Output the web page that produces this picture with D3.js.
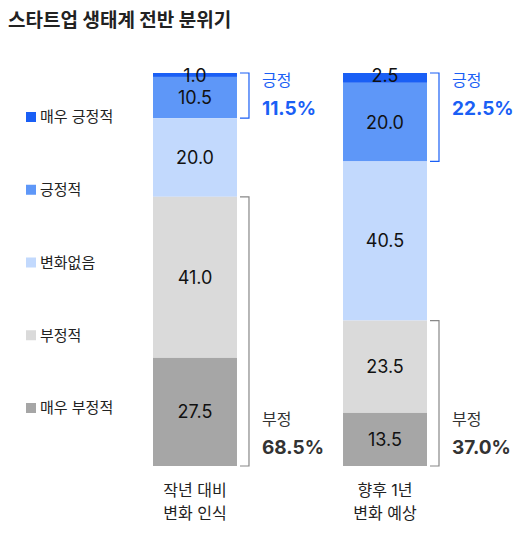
<!DOCTYPE html>
<html><head><meta charset="utf-8">
<script src="https://cdn.jsdelivr.net/npm/d3@7"></script>
<style>body{margin:0;background:#fff;font-family:Inter,"Noto Sans CJK KR","Noto Sans",sans-serif;}</style>
</head><body><svg id="c" width="525" height="533"></svg>
<script>
const categories = ["매우 긍정적", "긍정적", "변화없음", "부정적", "매우 부정적"];
const bars = [["작년 대비", "변화 인식"], ["향후 1년", "변화 예상"]];
const values = [[1.0, 10.5, 20.0, 41.0, 27.5], [2.5, 20.0, 40.5, 23.5, 13.5]];
const positive = ["11.5%", "22.5%"];
const negative = ["68.5%", "37.0%"];
const colors = ["#1a5ff5", "#5e97f8", "#c2d9fd", "#dadada", "#a6a6a6"];

const svg = d3.select("#c");
svg.append("text").attr("x", 8).attr("y", 27).attr("font-size", 19).attr("font-weight", 700)
  .attr("fill", "#222").text("스타트업 생태계 전반 분위기");

const y = d3.scaleLinear().domain([0, 100]).range([73, 466]);
const x = d3.scaleBand().domain([0, 1]).range([153, 427]).paddingInner(0.558).paddingOuter(0);
const ly = d3.scalePoint().domain(categories).range([117, 408]);

// legend
const lg = svg.append("g").selectAll("g").data(categories).join("g")
  .attr("transform", d => `translate(26,${ly(d)})`);
lg.append("rect").attr("x", 0).attr("y", -5).attr("width", 10).attr("height", 10)
  .attr("fill", (d, i) => colors[i]);
lg.append("text").attr("x", 14).attr("dy", "0.36em").attr("font-size", 15).attr("fill", "#222").text(d => d);

values.forEach((vals, b) => {
  let acc = 0;
  const g = svg.append("g");
  const segs = vals.map(v => { const s = {y0: acc, y1: acc + v, v}; acc += v; return s; });
  g.selectAll("rect").data(segs).join("rect")
    .attr("x", x(b)).attr("width", x.bandwidth())
    .attr("y", d => y(d.y0)).attr("height", d => y(d.y1) - y(d.y0))
    .attr("fill", (d, i) => colors[i]);
  g.selectAll("text.v").data(segs).join("text").attr("class", "v")
    .attr("x", x(b) + x.bandwidth() / 2)
    .attr("y", (d, i) => i === 0 ? y(d.y0) + 3 : (y(d.y0) + y(d.y1)) / 2)
    .attr("dy", "0.36em").attr("text-anchor", "middle").attr("font-size", 18).attr("fill", "#111")
    .text(d => d.v.toFixed(1));
  // category label
  g.append("text").attr("x", x(b) + x.bandwidth() / 2).attr("text-anchor", "middle")
    .attr("font-size", 16).attr("fill", "#222")
    .selectAll("tspan").data(bars[b]).join("tspan")
    .attr("x", x(b) + x.bandwidth() / 2).attr("y", (d, i) => 496 + i * 23).text(d => d);
  // brackets
  const bx = x(b) + x.bandwidth() + 3;
  const posEnd = vals[0] + vals[1], negStart = vals[0] + vals[1] + vals[2];
  const bracket = (y0, y1, col) => g.append("path")
    .attr("d", `M${bx},${y(y0)}H${bx + 9}V${y(y1)}H${bx}`).attr("fill", "none")
    .attr("stroke", col).attr("stroke-width", 1.2);
  bracket(0, posEnd, "#1a5ff5");
  bracket(negStart, 100, "#888");
  const tx = bx + 22;
  g.append("text").attr("x", tx).attr("y", 86).attr("font-size", 16).attr("fill", "#1a5ff5").text("긍정");
  g.append("text").attr("x", tx).attr("y", 115).attr("font-size", 19).attr("font-weight", 700).attr("fill", "#1a5ff5").text(positive[b]);
  g.append("text").attr("x", tx).attr("y", 425).attr("font-size", 16).attr("fill", "#333").text("부정");
  g.append("text").attr("x", tx).attr("y", 454).attr("font-size", 19).attr("font-weight", 700).attr("fill", "#333").text(negative[b]);
});
</script></body></html>
